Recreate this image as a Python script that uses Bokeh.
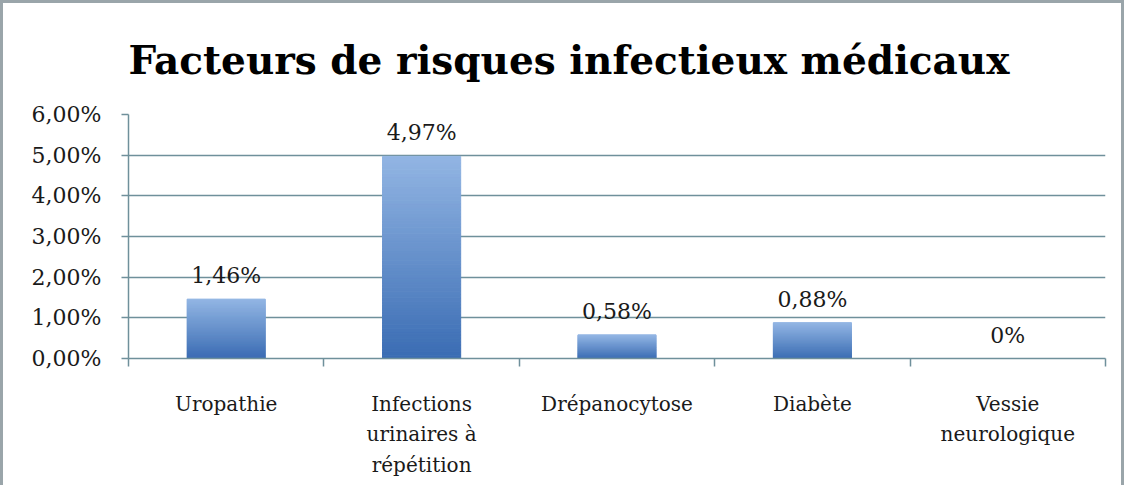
from bokeh.plotting import figure
from bokeh.models import FixedTicker, CustomJSTickFormatter, Range1d
from bokeh.embed import file_html
from bokeh.resources import INLINE
from bokeh.core.properties import value

# ---- data ----
categories = ["Uropathie", "Infections\nurinaires à\nrépétition", "Drépanocytose",
              "Diabète", "Vessie\nneurologique"]
values = [1.46, 4.97, 0.58, 0.88, 0.0]
value_labels = ["1,46%", "4,97%", "0,58%", "0,88%", "0%"]
y_ticks = [0, 1, 2, 3, 4, 5, 6]

GRID = "#6f909b"
FONT = "DejaVu Serif"
TXT = "#1a1a1a"

xs = [i + 0.5 for i in range(len(categories))]
bounds = list(range(len(categories) + 1))

p = figure(width=1124, height=485,
           x_range=Range1d(0, len(categories)), y_range=Range1d(0, 6),
           output_backend="svg", toolbar_location=None,
           min_border_left=125, min_border_right=22,
           min_border_top=111, min_border_bottom=130)
p.styles = {"border-top": "3px solid #9aa5aa", "border-left": "3px solid #9aa5aa",
            "border-right": "3px solid #9aa5aa"}
p.outline_line_color = None
p.background_fill_color = "white"
p.border_fill_color = "white"

# title
p.title.text = "Facteurs de risques infectieux médicaux"
p.title.text_font = FONT
p.title.text_font_style = "bold"
p.title.text_font_size = "39px"
p.title.align = "left"
p.title.offset = 0
p.title.standoff = 63
p.title.text_color = "#000000"

# gradient bars built from stacked slices
def mix(c1, c2, t):
    a = [int(c1[i:i + 2], 16) for i in (1, 3, 5)]
    b = [int(c2[i:i + 2], 16) for i in (1, 3, 5)]
    return "#%02x%02x%02x" % tuple(int(round(a[j] + (b[j] - a[j]) * t)) for j in range(3))

DARK = "#3a6cb3"
LIGHT = "#92b5e3"
N = 60
bx, bb, bt, bc = [], [], [], []
for x, v in zip(xs, values):
    if v <= 0:
        continue
    for k in range(N):
        bx.append(x)
        bb.append(v * k / N)
        bt.append(v * (k + 1) / N)
        bc.append(mix(DARK, LIGHT, (k + 0.5) / N))
p.vbar(x=bx, bottom=bb, top=bt, width=0.4, fill_color=bc, line_color=bc, line_width=1.0)

# value labels
p.text(x=xs, y=values, text=value_labels, text_align="center", text_baseline="bottom",
       y_offset=-11, text_font=value(FONT), text_font_size="22px", text_color=TXT)

# grid
p.xgrid.visible = False
p.ygrid.ticker = FixedTicker(ticks=y_ticks)
p.ygrid.grid_line_color = GRID
p.ygrid.grid_line_width = 1.5

# y axis
ya = p.yaxis[0]
ya.ticker = FixedTicker(ticks=y_ticks, minor_ticks=[])
ya.formatter = CustomJSTickFormatter(code="return tick.toFixed(2).replace('.', ',') + '%';")
ya.axis_line_color = GRID
ya.axis_line_width = 1.5
ya.major_tick_line_color = GRID
ya.major_tick_line_width = 1.5
ya.major_tick_out = 7
ya.major_tick_in = 0
ya.major_label_standoff = 20
ya.major_label_text_font = FONT
ya.major_label_text_font_size = "22px"
ya.major_label_text_color = TXT

# x axis
xa = p.xaxis[0]
xa.ticker = FixedTicker(ticks=xs, minor_ticks=bounds)
xa.major_label_overrides = {x: c for x, c in zip(xs, categories)}
xa.major_tick_line_color = None
xa.minor_tick_line_color = GRID
xa.minor_tick_line_width = 1.5
xa.minor_tick_out = 8
xa.minor_tick_in = 0
xa.axis_line_color = GRID
xa.axis_line_width = 1.5
xa.major_label_standoff = 25
xa.major_label_text_font = FONT
xa.major_label_text_font_size = "20px"
xa.major_label_text_color = TXT
xa.major_label_text_line_height = 1.28

open("out.html", "w").write(file_html(p, INLINE))
